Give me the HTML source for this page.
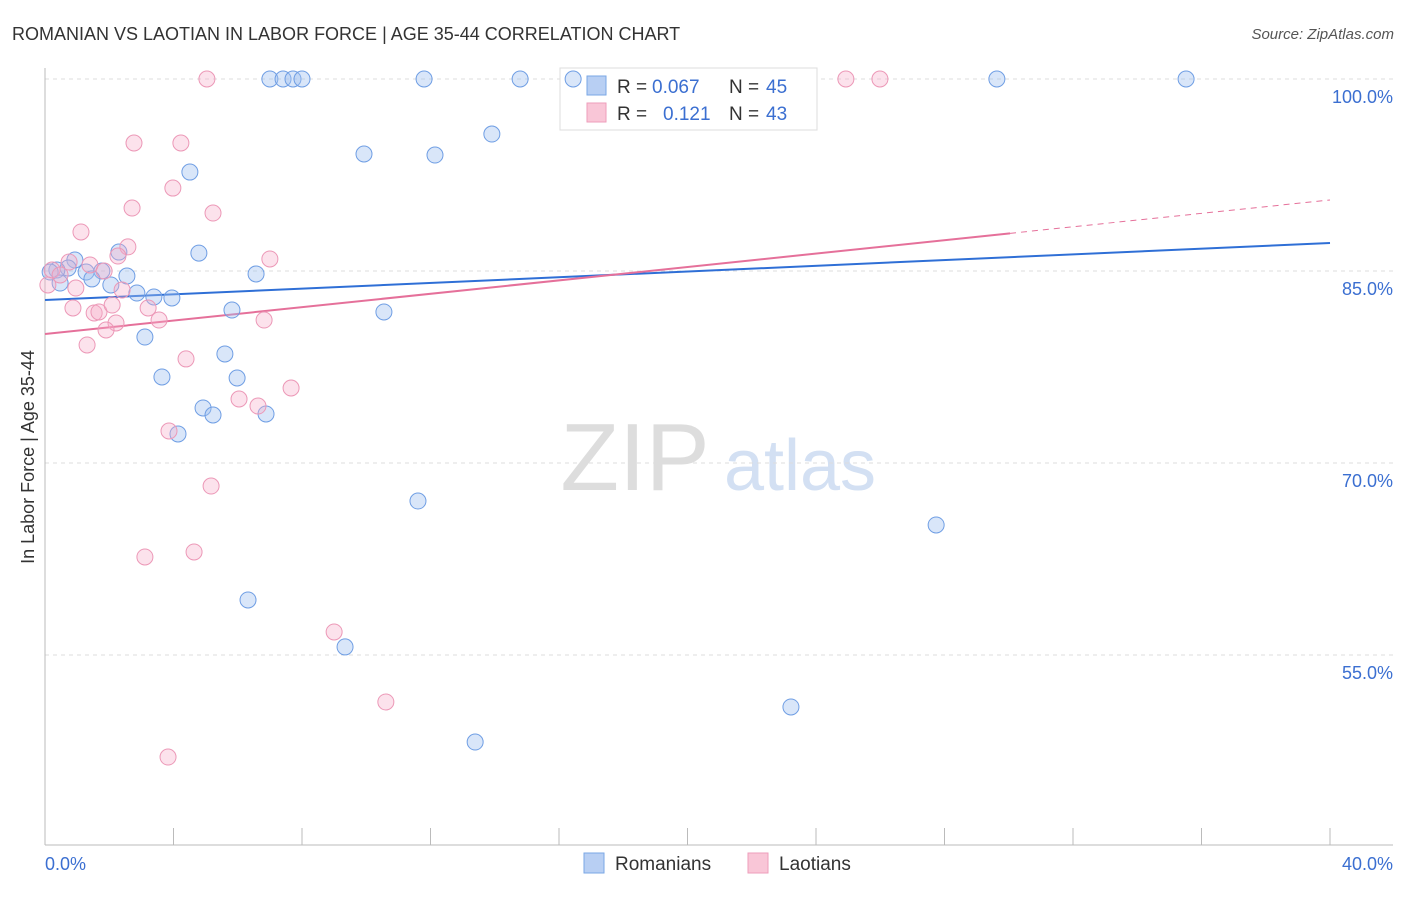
<!DOCTYPE html>
<html><head><meta charset="utf-8"><style>
body{margin:0;background:#fff;font-family:"Liberation Sans",sans-serif;}
svg text{font-family:"Liberation Sans",sans-serif;}
</style></head><body>
<svg id="chart" width="1406" height="892">
<text x="12" y="40" font-size="18" fill="#333">ROMANIAN VS LAOTIAN IN LABOR FORCE | AGE 35-44 CORRELATION CHART</text>
<text x="1394" y="39" font-size="15" fill="#555" font-style="italic" text-anchor="end">Source: ZipAtlas.com</text>
<g>
<text x="635" y="490" font-size="96" fill="#ddd" font-family="Liberation Serif,serif" text-anchor="middle">ZIP</text>
<text x="800" y="490" font-size="72" fill="#d3e0f3" text-anchor="middle">atlas</text>
</g>
<g id="grid"></g>
<g id="axes"></g>
<g>
<rect x="560" y="68" width="257" height="62" fill="#fff" stroke="#ddd"/>
<rect x="587" y="76" width="19" height="19" fill="#b8cff3" stroke="#7aa7e6"/>
<rect x="587" y="103" width="19" height="19" fill="#f9c6d7" stroke="#ee9ebb"/>
<text x="617" y="93" font-size="19" fill="#333">R =</text>
<text x="652" y="93" font-size="19" fill="#3b6fd1">0.067</text>
<text x="729" y="93" font-size="19" fill="#333">N =</text>
<text x="766" y="93" font-size="19" fill="#3b6fd1">45</text>
<text x="617" y="120" font-size="19" fill="#333">R =</text>
<text x="663" y="120" font-size="19" fill="#3b6fd1">0.121</text>
<text x="729" y="120" font-size="19" fill="#333">N =</text>
<text x="766" y="120" font-size="19" fill="#3b6fd1">43</text>
</g>
<g id="lines"></g>
<g id="pts"></g>
<text transform="translate(34,457) rotate(-90)" font-size="18" fill="#333" text-anchor="middle">In Labor Force | Age 35-44</text>
<g>
<rect x="584" y="853" width="20" height="20" fill="#b8cff3" stroke="#7aa7e6"/>
<text x="615" y="870" font-size="19" fill="#333">Romanians</text>
<rect x="748" y="853" width="20" height="20" fill="#f9c6d7" stroke="#ee9ebb"/>
<text x="779" y="870" font-size="19" fill="#333">Laotians</text>
</g>
</svg>
<script>
const yTicks=[100,85,70,55];
const yTickLabels=["100.0%","85.0%","70.0%","55.0%"];
const xEndLabels=["0.0%","40.0%"];
const romX=[7.00,7.41,7.72,8.00,11.80,14.79,16.44,29.63,35.52,13.91,9.93,12.14,4.51,4.79,2.30,0.93,0.72,0.37,0.16,1.77,1.28,1.46,2.55,2.05,0.47,2.86,3.39,3.95,6.57,5.82,10.55,3.11,5.60,3.64,5.98,4.92,5.23,6.88,4.14,11.61,27.74,6.32,9.34,23.22,13.39];
const romY=[100,100,100,100,100,100,100,100,100,95.70,94.14,94.06,92.73,86.40,86.48,85.86,85.23,85.08,84.92,85.0,84.92,84.38,84.61,83.91,84.06,83.28,82.97,82.89,84.77,81.95,81.80,79.84,78.52,76.72,76.64,74.30,73.75,73.83,72.27,67.03,65.16,59.30,55.63,50.94,48.20];
const laoX=[5.04,24.93,25.99,2.77,4.23,3.98,2.71,5.23,1.12,2.58,2.27,0.75,1.40,7.00,1.84,0.22,0.47,0.09,0.96,2.40,0.87,1.53,1.68,2.09,3.21,3.55,2.21,1.90,6.82,1.31,4.39,7.66,6.04,6.63,3.86,5.17,3.11,4.64,9.00,10.61,3.83];
const laoY=[100,100,100,95.0,95.0,91.48,89.92,89.53,88.05,86.88,86.17,85.70,85.47,85.94,85.0,85.08,84.69,83.91,83.67,83.52,82.11,81.72,81.80,82.34,82.11,81.17,80.94,80.39,81.17,79.22,78.13,75.86,75.0,74.45,72.50,68.20,62.66,63.05,56.80,51.33,47.03];
const romTrend=[82.73,87.19];
const laoTrend=[80.08,90.55];
const laoSolidEnd=30.04;

const X=v=>45+v/40*1285;
const Y=v=>79+(100-v)/15*192;
const NS='http://www.w3.org/2000/svg';
function mk(tag,parent,attrs){const e=document.createElementNS(NS,tag);for(const k in attrs)e.setAttribute(k,attrs[k]);parent.appendChild(e);return e;}
const grid=document.getElementById('grid'),axes=document.getElementById('axes'),lines=document.getElementById('lines'),pts=document.getElementById('pts');
yTicks.forEach((t,i)=>{
 const l=mk('line',grid,{x1:45,x2:1393,y1:Y(t),y2:Y(t),stroke:'#ddd','stroke-dasharray':'4,4'});
 
 
 const tx=mk('text',grid,{x:1393,y:Y(t)+24,'font-size':18,fill:'#3b6fd1','text-anchor':'end'});
 tx.textContent=yTickLabels[i];
 
 
});
mk('line',axes,{x1:45,x2:45,y1:68,y2:845,stroke:'#bbb'});
mk('line',axes,{x1:45,x2:1393,y1:845,y2:845,stroke:'#bbb'});
for(let i=0;i<=10;i++){const x=X(i*4);mk('line',axes,{x1:x,x2:x,y1:828,y2:845,stroke:'#bbb'});}
const xl0=mk('text',axes,{x:45,y:870,'font-size':18,fill:'#3b6fd1'});xl0.textContent=xEndLabels[0];


const xl1=mk('text',axes,{x:1393,y:870,'font-size':18,fill:'#3b6fd1','text-anchor':'end'});xl1.textContent=xEndLabels[1];


const rl=mk('line',lines,{x1:X(0),y1:Y(romTrend[0]),x2:X(40),y2:Y(romTrend[1]),stroke:'#2f6fd6','stroke-width':2});


const ly=x=>laoTrend[0]+(laoTrend[1]-laoTrend[0])*x/40;
const pl=mk('line',lines,{x1:X(0),y1:Y(laoTrend[0]),x2:X(laoSolidEnd),y2:Y(ly(laoSolidEnd)),stroke:'#e5709a','stroke-width':2});


const pd=mk('line',lines,{x1:X(laoSolidEnd),y1:Y(ly(laoSolidEnd)),x2:X(40),y2:Y(laoTrend[1]),stroke:'#e5709a','stroke-width':1,'stroke-dasharray':'6,5'});


romX.forEach((x,i)=>{const c=mk('circle',pts,{cx:X(x),cy:Y(romY[i]),r:8,fill:'rgba(160,192,240,0.4)',stroke:'#6f9ee4','stroke-width':1});
 
 });
laoX.forEach((x,i)=>{const c=mk('circle',pts,{cx:X(x),cy:Y(laoY[i]),r:8,fill:'rgba(246,172,200,0.35)',stroke:'#ec98b7','stroke-width':1});
 
 });
</script>
</body></html>
